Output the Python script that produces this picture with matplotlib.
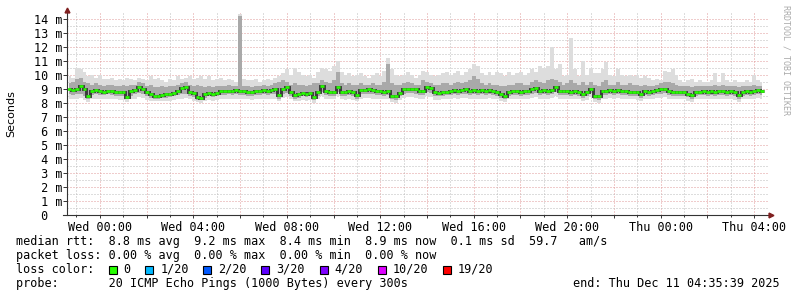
import numpy as np
import pandas as pd
import matplotlib
matplotlib.use('Agg')
import matplotlib.pyplot as plt
import matplotlib.dates as mdates
from matplotlib.ticker import FuncFormatter, MultipleLocator
from matplotlib.patches import Rectangle

nan = float('nan')

# 10 minute buckets, Tue 22:35:39 .. Thu 04:35:39 (milliseconds)
median = [
    8.95, 8.9, 8.95, 9.2, 8.95, 8.5, 8.85, 8.9, 8.85, 8.8, 8.85, 8.85, 8.8, 8.75, 8.75,
    8.4, 8.85, 8.9, 9.15, 9.0, 8.75, 8.6, 8.5, 8.5, 8.55, 8.6, 8.65, 8.7, 8.85, 9.05,
    9.1, 8.8, 8.7, 8.4, 8.35, 8.65, 8.7, 8.65, 8.7, 8.85, 8.85, 8.85, 8.85, 8.9, 8.85,
    8.85, 8.8, 8.8, 8.85, 8.85, 8.9, 8.85, 8.9, 8.95, 8.55, 9.0, 9.1, 8.8, 8.55, 8.6,
    8.7, 8.65, 8.7, 8.4, 8.8, 9.2, 8.85, 8.8, 8.8, 9.15, 8.8, 8.75, 8.85, 8.75, 8.55,
    8.9, 8.9, 8.95, 8.9, 8.85, 8.85, 8.8, 8.85, 8.5, 8.45, 8.7, 8.95, 9.0, 9.0, 8.95,
    8.85, 8.85, 9.1, 9.05, 8.75, 8.7, 8.75, 8.8, 8.85, 8.9, 8.85, 8.9, 8.95, 8.85, 8.9,
    8.85, 8.9, 8.85, 8.9, 8.85, 8.75, 8.6, 8.5, 8.8, 8.85, 8.85, 8.8, 8.85, 8.85, 8.95,
    9.05, 8.85, 8.9, 8.85, 8.9, 9.1, 8.85, 8.85, 8.85, 8.8, 8.85, 8.8, 8.6, 8.75, 9.0,
    8.5, 8.45, 8.85, 8.85, 8.9, 8.85, 8.9, 8.85, 8.85, 8.8, 8.8, 8.75, 8.6, 8.85, 8.8,
    8.85, 8.9, 8.95, 9.0, 8.85, 8.75, 8.8, 8.8, 8.75, 8.65, 8.55, 8.8, 8.8, 8.85, 8.8,
    8.85, 8.8, 8.85, 8.85, 8.8, 8.85, 8.75, 8.55, 8.8, 8.85, 8.8, 8.85, 8.9, 8.85, nan,
]
smoke_max = [
    9.9, 9.8, 10.5, 10.4, 10.2, 9.9, 10.0, 9.8, 10.0, 9.7, 9.7, 9.8, 9.6, 9.7, 9.6,
    9.8, 9.7, 9.6, 9.8, 9.7, 9.6, 9.9, 9.7, 9.8, 9.6, 9.5, 9.7, 9.6, 9.9, 9.7,
    9.8, 9.9, 9.7, 9.8, 9.9, 9.7, 9.9, 9.6, 9.7, 9.8, 9.6, 9.7, 9.6, 9.5, 14.3,
    9.7, 9.6, 9.6, 9.7, 9.5, 9.6, 9.7, 9.6, 9.8, 9.9, 10.1, 10.4, 10.0, 10.5, 10.2,
    10.0, 9.9, 10.0, 9.8, 10.2, 10.5, 10.4, 10.3, 10.6, 11.0, 10.2, 10.0, 10.1, 9.9, 10.0,
    10.1, 9.9, 9.8, 10.0, 10.1, 9.9, 10.3, 11.2, 10.4, 10.0, 9.9, 10.0, 10.2, 10.0, 9.8,
    10.0, 10.3, 10.2, 10.0, 9.9, 10.0, 10.1, 10.2, 10.0, 10.1, 10.3, 10.0, 10.2, 10.4, 10.8,
    10.6, 10.1, 10.0, 10.2, 10.0, 10.2, 10.1, 9.9, 10.2, 10.0, 10.1, 10.2, 10.0, 10.1, 10.4,
    10.2, 10.6, 10.5, 10.6, 12.0, 10.4, 10.8, 9.9, 10.0, 12.6, 10.4, 9.9, 11.0, 10.0, 10.4,
    10.1, 10.1, 10.4, 10.9, 10.0, 9.9, 10.4, 10.0, 9.9, 10.0, 9.9, 10.0, 9.8, 9.9, 9.8,
    9.6, 9.7, 9.6, 10.3, 10.2, 10.4, 10.0, 9.6, 9.5, 9.6, 9.7, 9.5, 9.6, 9.5, 9.5,
    9.6, 10.1, 9.5, 10.1, 9.6, 9.5, 9.6, 9.5, 9.5, 9.6, 9.5, 10.0, 9.6, 9.5, nan,
]
smoke_upper = [
    9.4, 9.5, 9.7, 9.8, 9.5, 9.4, 9.3, 9.4, 9.3, 9.2, 9.3, 9.3, 9.2, 9.2, 9.3,
    9.2, 9.3, 9.3, 9.5, 9.4, 9.2, 9.3, 9.1, 9.1, 9.2, 9.1, 9.2, 9.2, 9.3, 9.4,
    9.5, 9.3, 9.2, 9.3, 9.2, 9.1, 9.2, 9.1, 9.2, 9.2, 9.2, 9.3, 9.2, 9.2, 14.2,
    9.2, 9.2, 9.1, 9.2, 9.2, 9.3, 9.2, 9.3, 9.4, 9.5, 9.6, 9.5, 9.3, 9.4, 9.3,
    9.3, 9.2, 9.3, 9.4, 9.4, 9.6, 9.5, 9.4, 9.6, 10.2, 9.4, 9.3, 9.4, 9.3, 9.3,
    9.4, 9.3, 9.3, 9.4, 9.3, 9.3, 9.5, 10.8, 9.4, 9.3, 9.3, 9.4, 9.5, 9.4, 9.3,
    9.3, 9.6, 9.5, 9.4, 9.3, 9.3, 9.4, 9.4, 9.3, 9.4, 9.5, 9.4, 9.5, 9.6, 9.9,
    9.7, 9.4, 9.3, 9.4, 9.3, 9.3, 9.2, 9.2, 9.3, 9.3, 9.4, 9.4, 9.3, 9.3, 9.5,
    9.6, 9.5, 9.4, 9.6, 9.7, 9.6, 9.5, 9.3, 9.4, 9.6, 9.4, 9.3, 9.5, 9.3, 9.5,
    9.3, 9.2, 9.5, 9.6, 9.3, 9.3, 9.5, 9.3, 9.3, 9.4, 9.3, 9.3, 9.2, 9.3, 9.2,
    9.2, 9.3, 9.4, 9.5, 9.5, 9.4, 9.3, 9.2, 9.2, 9.2, 9.1, 9.2, 9.2, 9.2, 9.2,
    9.2, 9.3, 9.2, 9.3, 9.2, 9.2, 9.2, 9.1, 9.2, 9.2, 9.2, 9.3, 9.2, 9.2, nan,
]
smoke_lower = [
    8.6, 8.55, 8.6, 8.6, 8.5, 8.3, 8.55, 8.6, 8.55, 8.55, 8.6, 8.55, 8.5, 8.5, 8.45,
    8.25, 8.5, 8.6, 8.7, 8.6, 8.45, 8.35, 8.3, 8.3, 8.35, 8.35, 8.4, 8.45, 8.55, 8.6,
    8.65, 8.5, 8.4, 8.2, 8.2, 8.35, 8.45, 8.4, 8.45, 8.55, 8.55, 8.6, 8.55, 8.6, 8.55,
    8.55, 8.5, 8.5, 8.55, 8.55, 8.6, 8.55, 8.6, 8.6, 8.3, 8.65, 8.7, 8.5, 8.3, 8.35,
    8.45, 8.4, 8.45, 8.2, 8.5, 8.8, 8.55, 8.5, 8.5, 8.75, 8.5, 8.45, 8.55, 8.45, 8.3,
    8.6, 8.6, 8.65, 8.6, 8.55, 8.55, 8.5, 8.55, 8.25, 8.2, 8.45, 8.65, 8.7, 8.7, 8.65,
    8.55, 8.55, 8.75, 8.7, 8.45, 8.45, 8.5, 8.55, 8.55, 8.6, 8.55, 8.6, 8.65, 8.55, 8.6,
    8.55, 8.6, 8.55, 8.6, 8.55, 8.5, 8.35, 8.25, 8.5, 8.55, 8.55, 8.5, 8.55, 8.55, 8.65,
    8.7, 8.55, 8.6, 8.55, 8.6, 8.75, 8.55, 8.55, 8.55, 8.5, 8.55, 8.5, 8.35, 8.45, 8.7,
    8.25, 8.2, 8.55, 8.55, 8.6, 8.55, 8.6, 8.55, 8.55, 8.5, 8.5, 8.45, 8.35, 8.55, 8.5,
    8.55, 8.6, 8.65, 8.7, 8.55, 8.5, 8.5, 8.5, 8.5, 8.4, 8.3, 8.5, 8.55, 8.55, 8.5,
    8.55, 8.5, 8.55, 8.55, 8.5, 8.55, 8.45, 8.3, 8.5, 8.55, 8.5, 8.55, 8.6, 8.55, nan,
]
smoke_min = [
    8.3, 8.25, 8.3, 8.35, 8.2, 8.05, 8.25, 8.3, 8.25, 8.3, 8.3, 8.25, 8.25, 8.2, 8.2,
    8.05, 8.25, 8.3, 8.4, 8.35, 8.2, 8.15, 8.1, 8.1, 8.15, 8.1, 8.15, 8.2, 8.25, 8.3,
    8.35, 8.25, 8.15, 8.05, 8.0, 8.1, 8.2, 8.15, 8.2, 8.25, 8.3, 8.3, 8.25, 8.3, 8.3,
    8.25, 8.25, 8.2, 8.25, 8.3, 8.3, 8.25, 8.3, 8.3, 8.1, 8.35, 8.4, 8.25, 8.1, 8.15,
    8.2, 8.15, 8.2, 8.0, 8.25, 8.5, 8.3, 8.25, 8.25, 8.45, 8.25, 8.2, 8.3, 8.2, 8.1,
    8.3, 8.35, 8.35, 8.3, 8.3, 8.3, 8.25, 8.3, 8.05, 8.0, 8.2, 8.35, 8.4, 8.4, 8.35,
    8.3, 8.3, 8.45, 8.4, 8.2, 8.2, 8.25, 8.3, 8.3, 8.35, 8.3, 8.35, 8.35, 8.3, 8.3,
    8.3, 8.3, 8.3, 8.35, 8.3, 8.25, 8.1, 8.05, 8.25, 8.3, 8.3, 8.25, 8.3, 8.3, 8.35,
    8.4, 8.3, 8.3, 8.3, 8.35, 8.45, 8.3, 8.3, 8.3, 8.25, 8.3, 8.25, 8.1, 8.2, 8.4,
    8.05, 8.0, 8.3, 8.3, 8.35, 8.3, 8.35, 8.3, 8.3, 8.25, 8.25, 8.2, 8.1, 8.3, 8.25,
    8.3, 8.35, 8.35, 8.4, 8.3, 8.25, 8.25, 8.25, 8.25, 8.15, 8.05, 8.25, 8.3, 8.3, 8.25,
    8.3, 8.25, 8.3, 8.3, 8.25, 8.3, 8.2, 8.05, 8.25, 8.3, 8.25, 8.3, 8.35, 8.3, nan,
]

loss_labels = ['0', '1/20', '2/20', '3/20', '4/20', '10/20', '19/20']
loss_colors = ['#26ff00', '#00b8ff', '#0059ff', '#5e00ff', '#7e00ff', '#dd00ff', '#ff0000']

stats_line = 'median rtt:  8.8 ms avg  9.2 ms max  8.4 ms min  8.9 ms now  0.1 ms sd  59.7   am/s'
loss_line = 'packet loss: 0.00 % avg  0.00 % max  0.00 % min  0.00 % now'
probe_line = 'probe:       20 ICMP Echo Pings (1000 Bytes) every 300s'
end_line = 'end: Thu Dec 11 04:35:39 2025'

end = pd.Timestamp('2025-12-11 04:35:39')
start = end - pd.Timedelta(hours=30)
times = pd.date_range(start + pd.Timedelta(minutes=5), periods=len(median), freq='10min')
x = mdates.date2num(times.to_pydatetime())
half = 5.0 / (24 * 60)

W, H = 797, 297
MONO = 'DejaVu Sans Mono'

fig = plt.figure(figsize=(W / 100, H / 100), dpi=100)
fig.patch.set_facecolor('white')
ax = fig.add_axes([67 / W, 1 - 215 / H, 701 / W, 202 / H])

med = np.array(median)
ax.fill_between(x, smoke_min, smoke_max, step='mid', color='#dddddd', lw=0)
ax.fill_between(x, smoke_lower, smoke_upper, step='mid', color='#a9a9a9', lw=0)
ax.plot(x, med, drawstyle='steps-mid', color='#3a3a3a', lw=2.1,
        solid_capstyle='butt', solid_joinstyle='miter')
ax.hlines(med, x - half, x + half, color='#26ff00', lw=1.9)

ax.set_xlim(mdates.date2num(start.to_pydatetime()), mdates.date2num(end.to_pydatetime()))
ax.set_ylim(0, 14.4)

ax.xaxis.set_major_locator(mdates.HourLocator(byhour=range(0, 24, 2)))
ax.xaxis.set_minor_locator(mdates.HourLocator())


def xfmt(v, pos):
    d = mdates.num2date(v)
    return d.strftime('%a %H:%M') if d.hour % 4 == 0 else ''


ax.xaxis.set_major_formatter(FuncFormatter(xfmt))
ax.yaxis.set_major_locator(MultipleLocator(1))
ax.yaxis.set_minor_locator(MultipleLocator(0.5))
ax.yaxis.set_major_formatter(FuncFormatter(lambda v, p: ' 0' if v == 0 else '%2d m' % round(v)))

ax.grid(which='major', color='#e09a9a', ls=(0, (1, 2)), lw=0.72)
ax.grid(which='minor', color='#bdbdbd', ls=(0, (1, 2)), lw=0.72)
ax.set_axisbelow(True)

ax.tick_params(axis='x', which='major', length=2.5, width=0.7, color='#333333', pad=1.5,
               labelsize=8.5)
ax.tick_params(axis='x', which='minor', length=1.5, width=0.7, color='#333333')
ax.tick_params(axis='y', which='major', length=3, width=0.7, color='#333333', pad=20.5,
               labelsize=8.5)
ax.tick_params(axis='y', which='minor', length=0)
for lab in ax.get_xticklabels() + ax.get_yticklabels():
    lab.set_family(MONO)
for lab in ax.get_yticklabels():
    lab.set_horizontalalignment('left')

for s in ax.spines.values():
    s.set_visible(False)
ax.plot([-0.006, 1.004], [0, 0], transform=ax.transAxes, color='#333333', lw=0.8, clip_on=False)
ax.plot([0, 0], [0, 1.015], transform=ax.transAxes, color='#333333', lw=0.8, clip_on=False)
ax.plot([1.004], [0], marker='>', ms=3.5, color='#7f1f1f', transform=ax.transAxes, clip_on=False)
ax.plot([0], [1.015], marker='^', ms=3.5, color='#7f1f1f', transform=ax.transAxes, clip_on=False)

ax.set_ylabel('Seconds', fontsize=8, family='DejaVu Sans')
ax.yaxis.set_label_coords((16 - 67) / 701, 0.5)

fig.text(786 / W, 1 - 60 / H, 'RRDTOOL / TOBI OETIKER', rotation=270, color='#aaaaaa',
         family=MONO, fontsize=6, ha='center', va='center')

tx = 15.5 / W
fig.text(tx, 1 - 241.5 / H, stats_line, family=MONO, fontsize=8.5, va='center')
fig.text(tx, 1 - 255.5 / H, loss_line, family=MONO, fontsize=8.5, va='center')
fig.text(tx, 1 - 269.5 / H, 'loss color:', family=MONO, fontsize=8.5, va='center')
fig.text(tx, 1 - 283.5 / H, probe_line, family=MONO, fontsize=8.5, va='center')
fig.text(780 / W, 1 - 283.5 / H, end_line, family=MONO, fontsize=8.5, va='center', ha='right')

cw = 7.13
px = 108.5
for lab, col in zip(loss_labels, loss_colors):
    fig.add_artist(Rectangle((px / W, 1 - 273.5 / H), 8 / W, 8 / H, transform=fig.transFigure,
                             facecolor=col, edgecolor='black', lw=0.8))
    fig.text((px + 15) / W, 1 - 269.5 / H, lab, family=MONO, fontsize=8.5, va='center')
    px = px + 15 + len(lab) * cw + 14.6

fig.savefig('out.png', dpi=100)
